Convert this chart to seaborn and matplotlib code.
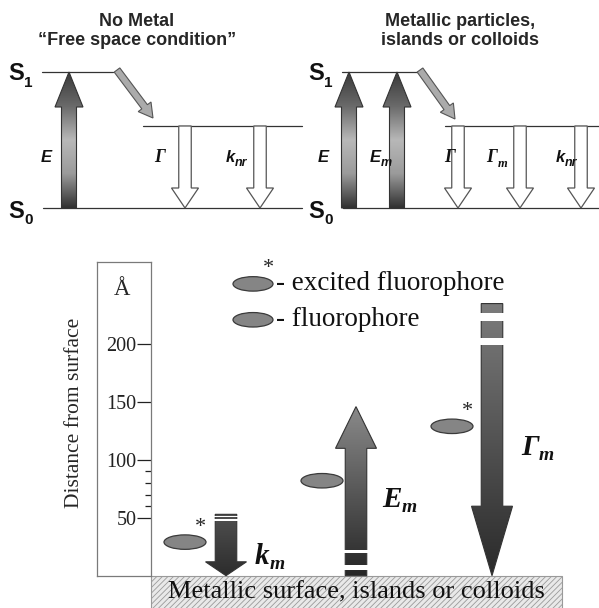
import numpy as np
import matplotlib.pyplot as plt
import seaborn as sns
from matplotlib.patches import Polygon, Ellipse, Rectangle, FancyArrow
from matplotlib.colors import LinearSegmentedColormap

sns.set_style('white')
plt.rcParams['font.family'] = ['Liberation Serif', 'DejaVu Serif']
plt.rcParams['hatch.linewidth'] = 0.6

# ---------- upper panel (Jablonski diagrams), px from top ----------
titles = ['No Metal\n\u201cFree space condition\u201d', 'Metallic particles,\nislands or colloids']
title_x = [137, 460]
s1_y, mid_y, s0_y = 72, 126, 208
s1_span = [(42, 113), (342, 418)]
mid_span = [(143, 302), (445, 599)]
s0_span = [(43, 302), (343, 599)]
s_label_x = [8, 308]
up_x = [[69], [349, 397]]
up_lab = [[('E', '', 46)], [('E', '', 323), ('E', 'm', 375)]]
down_x = [[185, 260], [458, 520, 581]]
down_lab = [[('\u0393', '', 160), ('k', 'nr', 230)],
            [('\u0393', '', 450), ('\u0393', 'm', 492), ('k', 'nr', 560)]]
diag = [((117, 70), (153, 118)), ((420, 70), (455, 119))]

# ---------- lower panel: distance from surface (Angstrom) ----------
dist_ticks = [50, 100, 150, 200]
dist_minor = [60, 70, 80, 90]
mol_x = [185, 322, 452]
mol_dist = [29, 82, 129]
mol_excited = [True, False, True]
legend_dist = [252, 221]
legend_text = ['- excited fluorophore', '- fluorophore']
rate_x = [226, 356, 492]
rate_from = [53, 0, 235]
rate_to = [0, 146, 0]
rate_head = [12, 36, 60]
rate_main = ['k', 'E', '\u0393']
rate_lab_x = [262, 392, 530]
rate_lab_y = [17, 66, 111]
rate_gaps = [[(50.6, 51.8), (47.6, 48.8)], [(19.3, 22.2), (4.9, 9.2)], [(220.2, 227.1), (199.3, 205.0)]]
rate_colors = [['#2c2c2c', '#505050'], ['#8a8a8a', '#262626'], ['#2a2a2a', '#7c7c7c']]


def arrow_verts(xc, y_tail, y_tip, shaft_w, head_w, head_len):
    d = np.sign(y_tip - y_tail)
    yb = y_tip - d * head_len
    return [(xc - shaft_w / 2, y_tail), (xc - shaft_w / 2, yb), (xc - head_w / 2, yb), (xc, y_tip),
            (xc + head_w / 2, yb), (xc + shaft_w / 2, yb), (xc + shaft_w / 2, y_tail)]


def grad_arrow(ax, verts, y_tip, y_tail, colors, edge='#333333'):
    poly = Polygon(verts, closed=True, fc='none', ec=edge, lw=0.8, zorder=4)
    ax.add_patch(poly)
    xs = [v[0] for v in verts]
    cmap = LinearSegmentedColormap.from_list('g', colors)
    grad = np.linspace(0, 1, 256).reshape(-1, 1)
    im = ax.imshow(grad, cmap=cmap, origin='lower', aspect='auto', interpolation='bilinear',
                   extent=(min(xs), max(xs), y_tip, y_tail), zorder=3)
    im.set_clip_path(poly)


def sub_text(ax, x, y, main, sub, size, sub_size, sub_at=0.1, **kw):
    t = ax.text(x, y, main, fontsize=size, ha='center', va='center', color='#111111', **kw)
    if sub:
        ax.annotate(sub, xy=(1, sub_at), xycoords=t, xytext=(0.2, 0), textcoords='offset points',
                    fontsize=sub_size, ha='left', va='center', color='#111111', **kw)
    return t


fig = plt.figure(figsize=(5.99, 6.08), dpi=100)

# ---------------- top ----------------
ax_top = fig.add_axes([0, 0, 1, 1])
ax_top.set_axis_off()
sans = dict(family='Liberation Sans', weight='bold')
for i in range(2):
    ax_top.text(title_x[i], 31, titles[i], ha='center', va='center', fontsize=13, linespacing=1.15, **sans)
    for span, y in [(s1_span[i], s1_y), (mid_span[i], mid_y), (s0_span[i], s0_y)]:
        ax_top.plot(span, [y, y], color='#333333', lw=0.9)
    sub_text(ax_top, s_label_x[i] + 8, s1_y + 2, 'S', '1', 17, 11, **sans)
    sub_text(ax_top, s_label_x[i] + 8, s0_y + 3, 'S', '0', 17, 11, **sans)
    for x in up_x[i]:
        v = arrow_verts(x, s0_y, s1_y, 15, 28, 35)
        grad_arrow(ax_top, v, s1_y, s0_y, ['#3a3a3a', '#6a6a6a', '#b8b8b8', '#9a9a9a', '#303030'])
    for x in down_x[i]:
        v = arrow_verts(x, mid_y, s0_y, 12.5, 27, 20)
        ax_top.add_patch(Polygon(v, closed=True, fc='white', ec='#555555', lw=0.9, zorder=3))
    for m, s, lx in up_lab[i]:
        sub_text(ax_top, lx, 157, m, s, 12, 9, family='Liberation Sans', weight='bold', style='italic')
    for m, s, lx in down_lab[i]:
        fam = 'Liberation Serif' if m == '\u0393' else 'Liberation Sans'
        sub_text(ax_top, lx, 157, m, s, 13 if m == '\u0393' else 12, 9, family=fam, weight='bold', style='italic')
    (x0, y0), (x1, y1) = diag[i]
    ax_top.add_patch(FancyArrow(x0, y0, x1 - x0, y1 - y0, width=7, head_width=16, head_length=14,
                                length_includes_head=True, fc='#ababab', ec='#555555', lw=0.8, zorder=3))
ax_top.set_xlim(0, 599)
ax_top.set_ylim(608, 0)

# ---------------- bottom ----------------
ax_low = fig.add_axes([0, 0, 1, 346 / 608])
ax_low.set_axis_off()
ax_low.patch.set_alpha(0)
ell_h = 12.5
mol_fc, mol_ec = '#858585', '#3a3a3a'
for x, d, exc in zip(mol_x, mol_dist, mol_excited):
    ax_low.add_patch(Ellipse((x, d), 42, ell_h, fc=mol_fc, ec=mol_ec, lw=0.9, zorder=3))
    if exc:
        ax_low.text(x + 15, d + 13, '*', fontsize=16, ha='center', va='center')
for j, (d, txt) in enumerate(zip(legend_dist, legend_text)):
    ax_low.add_patch(Ellipse((253, d), 40, ell_h, fc=mol_fc, ec=mol_ec, lw=0.9, zorder=3))
    ax_low.text(276, d, txt, fontsize=19.5, ha='left', va='center', color='#111111')
    if j == 0:
        ax_low.text(268, d + 13, '*', fontsize=16, ha='center', va='center')

for k in range(3):
    v = arrow_verts(rate_x[k], rate_from[k], rate_to[k], 21.5, 41, rate_head[k])
    grad_arrow(ax_low, v, rate_to[k], rate_from[k], rate_colors[k])
    for g0, g1 in rate_gaps[k]:
        ax_low.add_patch(Rectangle((rate_x[k] - 13, g0), 26, g1 - g0, fc='white', ec='none', zorder=5))
    sub_text(ax_low, rate_lab_x[k], rate_lab_y[k], rate_main[k], 'm', 21, 14, sub_at=0.2,
             family='Liberation Serif', weight='bold', style='italic')

ax_low.add_patch(Rectangle((151, -30), 410.7, 30, fc='#e9e9e9', ec='#9a9a9a', hatch='//////', lw=0.8, zorder=2))
ax_low.text(356, -14.5, 'Metallic surface, islands or colloids', fontsize=19, ha='center', va='center',
            color='#111111', zorder=6)
ax_low.set_xlim(0, 599)
ax_low.set_ylim(-27.9, 270.9)

# axis box
ax_box = fig.add_axes([96.7 / 599, 32.3 / 608, 54.3 / 599, 313.7 / 608])
ax_box.set_facecolor('white')
ax_box.set_xlim(0, 1)
ax_box.set_ylim(0, 270.9)
ax_box.set_xticks([])
ax_box.yaxis.tick_right()
ax_box.set_yticks(dist_ticks)
ax_box.set_yticks(dist_minor, minor=True)
ax_box.tick_params(axis='y', which='major', direction='in', length=10, width=0.9, pad=-10.5,
                   labelsize=14.5, colors='#222222')
ax_box.tick_params(axis='y', which='minor', direction='in', length=4.5, width=0.9, colors='#222222')
for t in ax_box.yaxis.get_major_ticks():
    t.label2.set_horizontalalignment('right')
for s in ax_box.spines.values():
    s.set_color('#7a7a7a')
    s.set_linewidth(0.9)
ax_box.text(0.46, 247, '\u00c5', fontsize=16.5, ha='center', va='center')
ax_box.set_ylabel('Distance from surface', fontsize=15.5, va='center')
ax_box.yaxis.set_label_coords(-0.40, 0.52)

fig.savefig('out.png', dpi=100)
